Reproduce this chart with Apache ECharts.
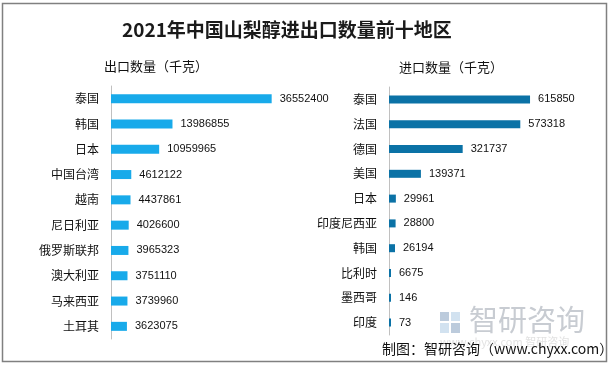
<!DOCTYPE html>
<html>
<head>
<meta charset="utf-8">
<script src="https://cdn.jsdelivr.net/npm/echarts@6/dist/echarts.min.js"></script>
<style>
html,body{margin:0;padding:0;background:#fff;}
#c{width:614px;height:371px;}
</style>
</head>
<body>
<div id="c"></div>
<script>
var exportCategories = ['泰国','韩国','日本','中国台湾','越南','尼日利亚','俄罗斯联邦','澳大利亚','马来西亚','土耳其'];
var exportValues = [36552400,13986855,10959965,4612122,4437861,4026600,3965323,3751110,3739960,3623075];
var importCategories = ['泰国','法国','德国','美国','日本','印度尼西亚','韩国','比利时','墨西哥','印度'];
var importValues = [615850,573318,321737,139371,29961,28800,26194,6675,146,73];

var CJK = '"Noto Sans CJK SC","Microsoft YaHei",sans-serif';
var chart = echarts.init(document.getElementById('c'), null, {renderer:'canvas'});

function yAx(idx, cats){
  return {
    type:'category', gridIndex:idx, data:cats, inverse:true,
    axisLine:{show:true, lineStyle:{color:'#c0c0c0', width:1}},
    axisTick:{show:false},
    axisLabel:{margin:12, fontSize:12, color:'#111', fontFamily:CJK}
  };
}

chart.setOption({
  animation:false,
  backgroundColor:'#fff',
  title:[
    {text:'2021年中国山梨醇进出口数量前十地区', left:122, top:20, padding:0,
     textStyle:{fontSize:19, fontWeight:'bold', color:'#1a1a1a', fontFamily:CJK}},
    {text:'出口数量（千克）', left:104, top:60, padding:0,
     textStyle:{fontSize:13, fontWeight:'normal', color:'#111', fontFamily:CJK}},
    {text:'进口数量（千克）', left:399, top:61, padding:0,
     textStyle:{fontSize:13, fontWeight:'normal', color:'#111', fontFamily:CJK}}
  ],
  grid:[
    {left:111, top:86, width:200, height:253},
    {left:389, top:87, width:150, height:248}
  ],
  xAxis:[
    {type:'value', gridIndex:0, min:0, max:45500000, show:false},
    {type:'value', gridIndex:1, min:0, max:655000, show:false}
  ],
  yAxis:[yAx(0, exportCategories), yAx(1, importCategories)],
  series:[
    {type:'bar', xAxisIndex:0, yAxisIndex:0, data:exportValues, barWidth:9,
     itemStyle:{color:'#18aaea'},
     label:{show:true, position:'right', distance:8, fontSize:11, color:'#111',
            fontFamily:'"Liberation Sans",Arial,sans-serif'}},
    {type:'bar', xAxisIndex:1, yAxisIndex:1, data:importValues, barWidth:8, barMinHeight:2,
     itemStyle:{color:'#0b72a6'},
     label:{show:true, position:'right', distance:8, fontSize:11, color:'#111',
            fontFamily:'"Liberation Sans",Arial,sans-serif'}}
  ],
  graphic:[
    {type:'rect', z:-1, shape:{x:2.5, y:3.5, width:604, height:358},
     style:{fill:'none', stroke:'#808080', lineWidth:1.5}},
    {type:'rect', shape:{x:440, y:312, width:9, height:9}, style:{fill:'#bccbdc'}},
    {type:'rect', shape:{x:451, y:312, width:9, height:9}, style:{fill:'#d2e2f0'}},
    {type:'rect', shape:{x:440, y:323, width:9, height:10}, style:{fill:'#d2e2f0'}},
    {type:'rect', shape:{x:451, y:323, width:9, height:10}, style:{fill:'#bccbdc'}},
    {type:'text', left:469, top:305,
     style:{text:'智研咨询', fontSize:29, fill:'#c8ccd2', fontFamily:CJK, letterSpacing:5}},
    {type:'text', left:440, top:336,
     style:{text:'www.chyxx.com 智研咨询', fontSize:11, fill:'#e2e2e2', fontFamily:CJK}},
    {type:'text', left:382, top:342,
     style:{text:'制图：智研咨询（www.chyxx.com）', fontSize:14, fill:'#111', fontFamily:CJK, letterSpacing:0.6}}
  ]
});
</script>
</body>
</html>
